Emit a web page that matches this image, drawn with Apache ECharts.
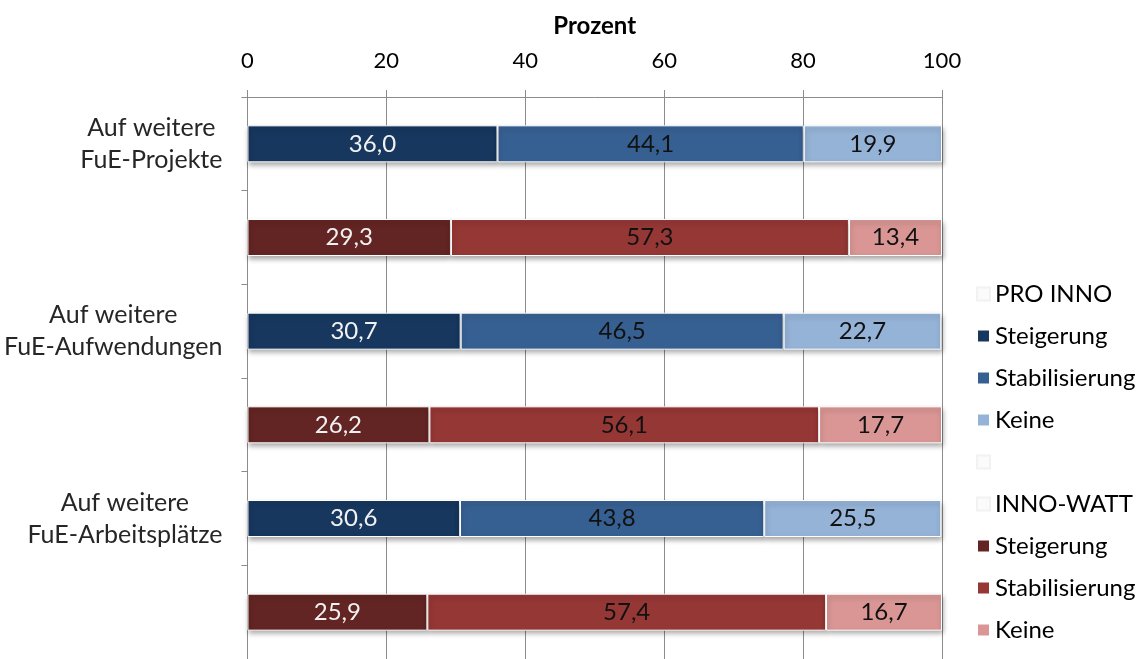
<!DOCTYPE html>
<html><head><meta charset="utf-8">
<script src="https://cdn.jsdelivr.net/npm/echarts@6/dist/echarts.min.js"></script>
<style>html,body{margin:0;padding:0;background:#fff}#c{width:1140px;height:659px}</style>
</head><body><div id="c"></div>
<script>
const categories = ['Auf weitere\nFuE-Projekte', '', 'Auf weitere\nFuE-Aufwendungen', '', 'Auf weitere\nFuE-Arbeitsplätze', ''];
const xTicks = [0, 20, 40, 60, 80, 100];
// PRO INNO rows (categories 0, 2, 4)
const proSteigerung = [36.0, 30.7, 30.6];
const proStabilisierung = [44.1, 46.5, 43.8];
const proKeine = [19.9, 22.7, 25.5];
// INNO-WATT rows (categories 1, 3, 5)
const wattSteigerung = [29.3, 26.2, 25.9];
const wattStabilisierung = [57.3, 56.1, 57.4];
const wattKeine = [13.4, 17.7, 16.7];

const FONT = 'Lato';
function rows(vals, offset) {
  const out = categories.map(() => '-');
  vals.forEach((v, i) => { out[i * 2 + offset] = v; });
  return out;
}
const legendText = {
  'PRO INNO': 'PRO INNO', 'pS': 'Steigerung', 'pB': 'Stabilisierung', 'pK': 'Keine',
  'blank': '\u00a0', 'INNO-WATT': 'INNO-WATT', 'wS': 'Steigerung', 'wB': 'Stabilisierung', 'wK': 'Keine'
};
const fmt = p => (typeof p.value === 'number') ? p.value.toFixed(1).replace('.', ',') : '';
function barSeries(name, data, color, labelColor) {
  return {
    name, type: 'bar', stack: 'total', data, barWidth: 37,
    itemStyle: { color, borderColor: '#ffffff', borderWidth: 1,
      shadowColor: 'rgba(0,0,0,0.35)', shadowBlur: 5, shadowOffsetY: 3, shadowOffsetX: 1 },
    label: { show: true, position: 'inside', formatter: fmt, color: labelColor,
      fontFamily: FONT, fontSize: 24 },
    emphasis: { disabled: true }
  };
}
function dummy(name, color) {
  return { name, type: 'bar', stack: 'total', data: categories.map(() => '-'),
    itemStyle: { color, borderColor: '#f2f2f2', borderWidth: 0.5 } };
}

// measure widths for centered multi-line category labels
const CAT_FS = 25;
const cv = document.createElement('canvas').getContext('2d');
cv.font = CAT_FS + 'px ' + FONT;
const rich = {};
categories.forEach((c, i) => {
  if (!c) return;
  const w = Math.max(...c.split('\n').map(l => cv.measureText(l).width)) + 2;
  rich['c' + i] = { width: w, align: 'center', fontFamily: FONT, fontSize: CAT_FS, color: '#262626', lineHeight: 32 };
});

const chart = echarts.init(document.getElementById('c'), null, { renderer: 'canvas' });
chart.setOption({
  animation: false,
  backgroundColor: '#ffffff',
  grid: { left: 247, top: 97, width: 695, height: 570, containLabel: false },
  xAxis: {
    type: 'value', position: 'top', min: 0, max: 100, interval: 20,
    name: 'Prozent', nameLocation: 'middle', nameGap: 59,
    nameTextStyle: { fontFamily: FONT, fontSize: 24, fontWeight: 'bold', color: '#000' },
    axisLine: { show: true, lineStyle: { color: '#8c8c8c', width: 1 } },
    axisTick: { show: true, length: 7, lineStyle: { color: '#8c8c8c' } },
    splitLine: { show: true, lineStyle: { color: '#8c8c8c', width: 1 } },
    axisLabel: { margin: 25, fontFamily: FONT, fontSize: 22, color: '#000',
      customValues: xTicks }
  },
  yAxis: {
    type: 'category', inverse: true, data: categories,
    axisLine: { show: true, lineStyle: { color: '#8c8c8c', width: 1 } },
    axisTick: { show: true, length: 6, lineStyle: { color: '#8c8c8c' } },
    splitLine: { show: false },
    axisLabel: { margin: 24, interval: 0, rich,
      formatter: (v, i) => v ? v.split('\n').map(l => '{c' + i + '|' + l + '}').join('\n') : '' }
  },
  legend: {
    orient: 'vertical', left: 971, top: 268, itemWidth: 13, itemHeight: 13, itemGap: 0,
    icon: 'rect', selectedMode: false,
    textStyle: { fontFamily: FONT, fontSize: 24, color: '#000', lineHeight: 42 },
    formatter: n => legendText[n],
    data: ['PRO INNO', 'pS', 'pB', 'pK', 'blank', 'INNO-WATT', 'wS', 'wB', 'wK']
  },
  series: [
    dummy('PRO INNO', '#fbfbfb'),
    barSeries('pS', rows(proSteigerung, 0), '#17375E', '#f2f2f2'),
    barSeries('pB', rows(proStabilisierung, 0), '#376092', '#111111'),
    barSeries('pK', rows(proKeine, 0), '#95B3D7', '#111111'),
    dummy('blank', '#fbfbfb'),
    dummy('INNO-WATT', '#fbfbfb'),
    barSeries('wS', rows(wattSteigerung, 1), '#632523', '#f2f2f2'),
    barSeries('wB', rows(wattStabilisierung, 1), '#953735', '#111111'),
    barSeries('wK', rows(wattKeine, 1), '#D99694', '#111111')
  ]
});
</script></body></html>
